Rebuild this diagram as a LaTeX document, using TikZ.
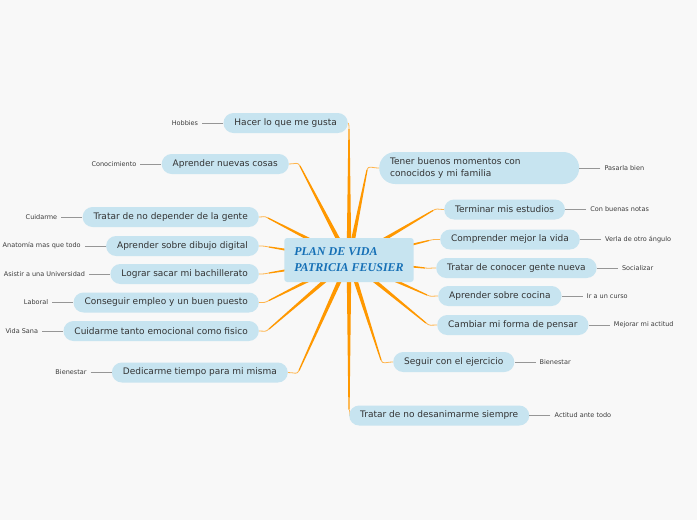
\documentclass[tikz,border=0pt]{standalone}
\usepackage{fontspec}
\setmainfont{DejaVu Sans}
\newfontfamily\titlefont{Liberation Serif}
\usetikzlibrary{calc, positioning, backgrounds}
\definecolor{bgcol}{RGB}{248,248,248}
\definecolor{pillblue}{RGB}{199,228,240}
\definecolor{branchorange}{RGB}{255,152,0}
\definecolor{twigorange}{RGB}{255,180,75}
\definecolor{titleblue}{RGB}{22,112,182}
\definecolor{taggray}{RGB}{150,150,150}
\definecolor{tagtext}{RGB}{60,60,60}

\begin{document}
\begin{tikzpicture}[x=1pt, y=-1pt,
  pill/.style={fill=pillblue, rounded corners=10pt, minimum height=20pt, inner xsep=11pt, inner ysep=0pt, text=black!80, font=\fontsize{9}{11}\selectfont},
  tag/.style={text=tagtext, inner xsep=4pt, inner ysep=1pt, font=\fontsize{6.5}{8}\selectfont},
  tagline/.style={draw=taggray, line width=0.9pt},
  twig/.style={draw=twigorange, line width=0.8pt},
  hub/.style={fill=pillblue, rounded corners=3pt, minimum width=128pt, minimum height=44pt, inner xsep=10pt, align=left, text=titleblue, font=\titlefont\bfseries\itshape\fontsize{12}{16}\selectfont}]
  \useasboundingbox (0,0) rectangle (697,520);

  % Central topic
  \node[hub] (plan) at (349,260) {PLAN DE VIDA\\PATRICIA FEUSIER};

  % Left goals
  \node[pill, anchor=east] (gusta) at (348,123) {Hacer lo que me gusta};
  \node[pill, anchor=east] (cosas) at (289,164) {Aprender nuevas cosas};
  \node[pill, anchor=east] (gente) at (259,217) {Tratar de no depender de la gente};
  \node[pill, anchor=east] (dibujo) at (259,246) {Aprender sobre dibujo digital};
  \node[pill, anchor=east] (bachi) at (259,274) {Lograr sacar mi bachillerato};
  \node[pill, anchor=east] (empleo) at (259,302.5) {Conseguir empleo y un buen puesto};
  \node[pill, anchor=east] (fisico) at (259,331) {Cuidarme tanto emocional como fisico};
  \node[pill, anchor=east] (misma) at (288,372.5) {Dedicarme tiempo para mi misma};

  % Right goals
  \node[pill, anchor=west, minimum height=32pt, rounded corners=16pt, text width=178pt, align=left, font=\fontsize{9}{11.5}\selectfont] (momentos) at (379,168) {Tener buenos momentos con\\conocidos y mi familia};
  \node[pill, anchor=west] (estudios) at (444,209.5) {Terminar mis estudios};
  \node[pill, anchor=west] (vida) at (440,239.5) {Comprender mejor la vida};
  \node[pill, anchor=west] (conocer) at (436,268) {Tratar de conocer gente nueva};
  \node[pill, anchor=west] (cocina) at (438,296) {Aprender sobre cocina};
  \node[pill, anchor=west] (pensar) at (437,325) {Cambiar mi forma de pensar};
  \node[pill, anchor=west] (ejercicio) at (393,362) {Seguir con el ejercicio};
  \node[pill, anchor=west] (animo) at (349,415.5) {Tratar de no desanimarme siempre};

  % Notes
  \node[tag, left=21pt of gusta] (hobbies) {Hobbies};
  \node[tag, left=21pt of cosas] (conocimiento) {Conocimiento};
  \node[tag, left=21pt of gente] (cuidarme) {Cuidarme};
  \node[tag, left=21pt of dibujo] (anatomia) {Anatomía mas que todo};
  \node[tag, left=21pt of bachi] (universidad) {Asistir a una Universidad};
  \node[tag, left=21pt of empleo] (laboral) {Laboral};
  \node[tag, left=21pt of fisico] (vidasana) {Vida Sana};
  \node[tag, left=21pt of misma] (bienestarA) {Bienestar};
  \node[tag, right=21pt of momentos] (pasarla) {Pasarla bien};
  \node[tag, right=21pt of estudios] (notas) {Con buenas notas};
  \node[tag, right=21pt of vida] (angulo) {Verla de otro ángulo};
  \node[tag, right=21pt of conocer] (socializar) {Socializar};
  \node[tag, right=21pt of cocina] (curso) {Ir a un curso};
  \node[tag, right=21pt of pensar] (actitud) {Mejorar mi actitud};
  \node[tag, right=21pt of ejercicio] (bienestarB) {Bienestar};
  \node[tag, right=21pt of animo] (antetodo) {Actitud ante todo};

  \foreach \a/\b in {hobbies/gusta, conocimiento/cosas, cuidarme/gente, anatomia/dibujo, universidad/bachi, laboral/empleo, vidasana/fisico, bienestarA/misma, pasarla/momentos, notas/estudios, angulo/vida, socializar/conocer, curso/cocina, actitud/pensar, bienestarB/ejercicio, antetodo/animo}
    \draw[tagline] (\a) -- (\b);

  % Branches (tapered, behind the nodes)
  \begin{pgfonlayer}{background}
    \fill[bgcol] (0,0) rectangle (697,520);
    \foreach \n/\s/\dx/\dy in {gusta/east/1/6, cosas/east/11/2, gente/east/9/1, dibujo/east/10/1, bachi/east/10/-1, empleo/east/10/-2, fisico/east/10/-2, misma/east/11/-2, momentos/west/-12/2, estudios/west/-11/1, vida/west/-11/1, conocer/west/-11/0, cocina/west/-11/-1, pensar/west/-11/-2, ejercicio/west/-12/-2, animo/west/0/-6} {
      \coordinate (elbow-\n) at ($(\n.\s)+(\dx,\dy)$);
      \fill[branchorange] ($(plan.center)!2.4pt!90:(elbow-\n)$) -- ($(elbow-\n)!0.6pt!-90:(plan.center)$)
        -- ($(elbow-\n)!0.6pt!90:(plan.center)$) -- ($(plan.center)!2.4pt!-90:(elbow-\n)$) -- cycle;
      \draw[twig] (\n.\s) .. controls ($(\n.\s)+(0.6*\dx,0)$) and ($(elbow-\n)!-5pt!(plan.center)$) .. (elbow-\n);
    }
  \end{pgfonlayer}
\end{tikzpicture}
\end{document}
